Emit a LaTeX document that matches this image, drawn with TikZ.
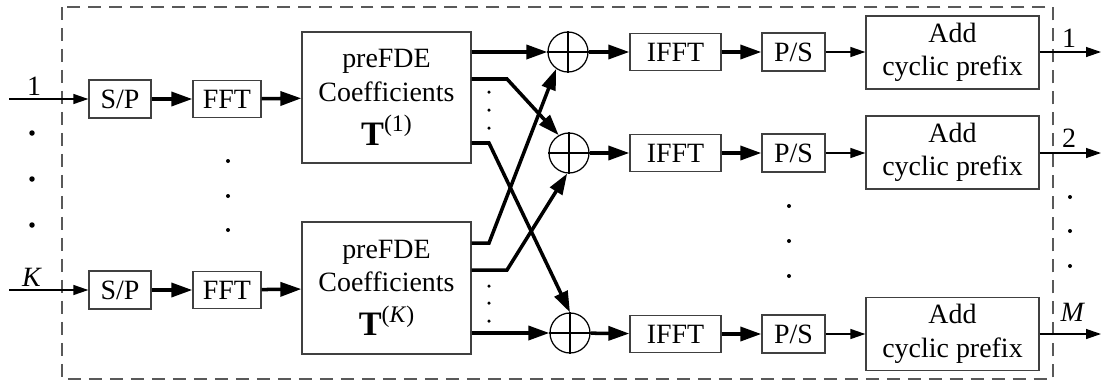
\documentclass[tikz,border=0pt]{standalone}
\usepackage{fontspec}
\setmainfont{Liberation Serif}
\usetikzlibrary{positioning, arrows.meta}

% bold T with a small superscript
\newcommand{\Tcoef}[1]{{\fontsize{19.5}{19}\selectfont\bfseries T}\raisebox{1.05ex}{\fontsize{13.5}{12}\selectfont #1}}

\begin{document}
\begin{tikzpicture}[x=0.02cm, y=-0.02cm,
		blk/.style={draw=black!75, line width=0.75pt, inner sep=0pt, align=center,
			font=\fontsize{15.9}{19}\selectfont},
		sumnode/.style={draw, circle, line width=0.7pt, minimum size=0.8cm, inner sep=0pt},
		thk/.style={line width=2pt, -{Triangle[length=0.42cm, width=0.28cm]}},
		thn/.style={line width=0.75pt, -{Triangle[length=0.3cm, width=0.2cm]}},
		lbl/.style={font=\fontsize{15.9}{19}\selectfont, inner sep=0pt}]
	\useasboundingbox (0,0) rectangle (1103,383);
	
	% --- dashed frame ---
	\draw[black!65, line width=0.75pt, dash pattern=on 0.26cm off 0.16cm] (62,7) rectangle (1053,379);
	
	% --- input side ---
	\coordinate (in1) at (9,99);
	\coordinate (inK) at (9,290);
	\node[blk, minimum width=1.24cm, minimum height=0.76cm] (sp1) at (120,99) {S/P};
	\node[blk, minimum width=1.24cm, minimum height=0.76cm] (spK) at (120,290) {S/P};
	\node[blk, minimum width=1.36cm, minimum height=0.74cm] (fft1) at (227,99) {FFT};
	\node[blk, minimum width=1.36cm, minimum height=0.74cm] (fftK) at (227,290) {FFT};
	\node[blk, minimum width=3.38cm, minimum height=2.62cm] (pre1) at (386.5,97.5) {preFDE\\Coefficients\\[6pt]\Tcoef{(1)}};
	\node[blk, minimum width=3.38cm, minimum height=2.64cm] (preK) at (386.5,288) {preFDE\\Coefficients\\[6pt]\Tcoef{(\textit{K})}};
	
	\node[lbl] (lblin1) at (34,86) {1};
	\node[lbl] (lblinK) at (32,277) {\textit{K}};
	
	\draw[thn] (in1) -- (sp1.west);
	\draw[thn] (inK) -- (spK.west);
	\draw[thk] (sp1) -- (fft1);
	\draw[thk] (spK) -- (fftK);
	\draw[thk] (fft1) -- (pre1);
	\draw[thk] (fftK) -- (preK);
	
	% --- summing nodes ---
	\node[sumnode] (sum1) at (568,52) {};
	\node[sumnode] (sum2) at (569,153) {};
	\node[sumnode] (sumM) at (570,333) {};
	\draw[line width=0.6pt] (sum1.north) -- (sum1.south) (sum1.west) -- (sum1.east);
	\draw[line width=0.6pt] (sum2.north) -- (sum2.south) (sum2.west) -- (sum2.east);
	\draw[line width=0.6pt] (sumM.north) -- (sumM.south) (sumM.west) -- (sumM.east);
	
	% --- crossing connections ---
	\draw[thk] (pre1.east |- sum1.west) -- (sum1.west);
	\draw[thk] (pre1.east |- 0,79) -- (507,79) -- (sum2.120);
	\draw[thk] (pre1.east |- 0,143) -- (489,143) -- (sumM.north);
	\draw[thk] (preK.east |- 0,243) -- (489,243) -- (sum1.235);
	\draw[thk] (preK.east |- 0,270) -- (507,270) -- (sum2.265);
	\draw[thk] (preK.east |- sumM.west) -- (sumM.west);
	
	% --- output side ---
	\node[blk, minimum width=1.82cm, minimum height=0.74cm] (ifft1) at (675.5,52) {IFFT};
	\node[blk, minimum width=1.82cm, minimum height=0.74cm] (ifft2) at (675.5,153) {IFFT};
	\node[blk, minimum width=1.82cm, minimum height=0.74cm] (ifftM) at (675.5,334) {IFFT};
	\node[blk, minimum width=1.26cm, minimum height=0.76cm] (ps1) at (793.5,52) {P/S};
	\node[blk, minimum width=1.26cm, minimum height=0.76cm] (ps2) at (793.5,153) {P/S};
	\node[blk, minimum width=1.26cm, minimum height=0.76cm] (psM) at (793.5,334) {P/S};
	\node[blk, minimum width=3.46cm, minimum height=1.46cm] (cp1) at (952.5,52.5) {Add\\cyclic prefix};
	\node[blk, minimum width=3.46cm, minimum height=1.46cm] (cp2) at (952.5,152.5) {Add\\cyclic prefix};
	\node[blk, minimum width=3.46cm, minimum height=1.46cm] (cpM) at (952.5,334) {Add\\cyclic prefix};
	
	\draw[thk] (sum1) -- (ifft1);
	\draw[thk] (sum2) -- (ifft2);
	\draw[thk] (sumM) -- (ifftM);
	\draw[thk] (ifft1) -- (ps1);
	\draw[thk] (ifft2) -- (ps2);
	\draw[thk] (ifftM) -- (psM);
	\draw[thn] (ps1) -- (cp1.west |- ps1);
	\draw[thn] (ps2) -- (cp2.west |- ps2);
	\draw[thn] (psM) -- (cpM.west |- psM);
	
	\coordinate (out1) at (1101,52);
	\coordinate (out2) at (1101,153);
	\coordinate (outM) at (1101,334);
	\draw[thn] (cp1.east |- out1) -- (out1);
	\draw[thn] (cp2.east |- out2) -- (out2);
	\draw[thn] (cpM.east |- outM) -- (outM);
	\node[lbl] (lblout1) at (1069,38) {1};
	\node[lbl] (lblout2) at (1069,138) {2};
	\node[lbl] (lbloutM) at (1073,312) {\textit{M}};
	
	% --- dots ---
	\foreach \y in {133,179,225} \fill (32,\y) circle (0.055cm);
	\foreach \y in {161,196,230} \fill (228,\y) circle (0.04cm);
	\foreach \y in {92,110,128,286,303,321} \fill (489,\y) circle (0.035cm);
	\foreach \y in {206,241,276} \fill (789,\y) circle (0.04cm);
	\foreach \y in {197,231,266} \fill (1070,\y) circle (0.04cm);
\end{tikzpicture}
\end{document}
